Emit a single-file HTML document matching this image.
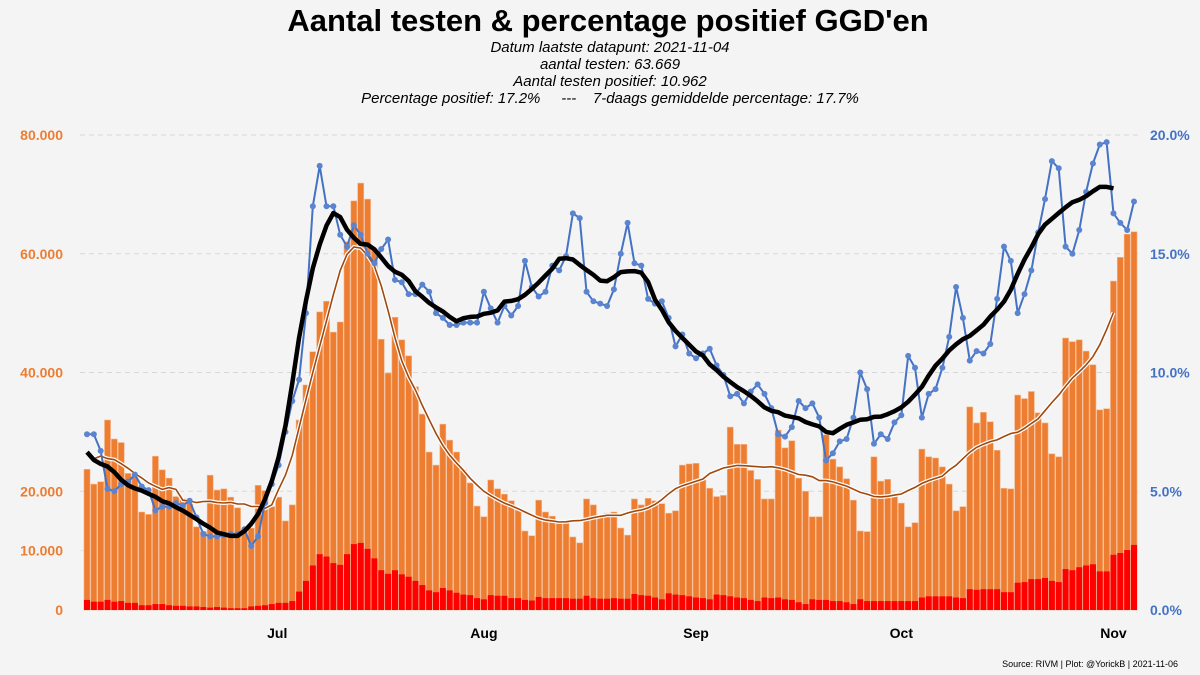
<!DOCTYPE html>
<html><head><meta charset="utf-8"><style>
html,body{margin:0;padding:0;background:#f4f4f4;}
svg{display:block;font-family:"Liberation Sans",sans-serif;}
</style></head><body>
<svg id="chart" width="1200" height="675" viewBox="0 0 1200 675">
<rect width="1200" height="675" fill="#f4f4f4"/>
<text x="608" y="31" text-anchor="middle" font-size="31" font-weight="bold" fill="#000">Aantal testen &amp; percentage positief GGD'en</text>
<g font-size="15" font-style="italic" text-anchor="middle" fill="#000">
<text x="610" y="52">Datum laatste datapunt: 2021-11-04</text>
<text x="610" y="69">aantal testen: 63.669</text>
<text x="610" y="86">Aantal testen positief: 10.962</text>
<text x="610" y="103" style="white-space:pre">Percentage positief: 17.2%     ---    7-daags gemiddelde percentage: 17.7%</text>
</g>
<g id="grid"></g>
<g id="bars"></g>
<g id="lines"></g>
<g id="axes"></g>
<text x="1178" y="667" text-anchor="end" font-size="9" fill="#000">Source: RIVM | Plot: @YorickB |  2021-11-06</text>
</svg>
<script>
const tests = [23.7,21.2,21.6,32.0,28.8,28.2,23.0,22.4,16.5,16.1,25.9,23.6,22.2,19.1,18.8,18.6,14.0,13.2,22.7,20.2,20.4,19.0,17.2,13.5,13.8,21.0,20.1,17.4,19.0,15.0,17.7,32.0,37.9,43.5,50.2,52.0,46.8,48.5,62.0,68.9,71.9,
69.2,60.6,45.6,39.9,49.3,45.5,42.8,37.6,33.0,26.6,24.4,31.3,28.6,26.6,23.6,21.4,17.5,15.7,21.9,20.4,19.5,18.4,16.8,13.3,12.5,18.5,16.5,15.8,14.8,14.6,12.3,11.3,18.7,17.7,16.0,16.3,16.5,13.8,12.6,18.7,17.7,
18.8,18.4,17.9,16.3,16.7,24.4,24.6,24.7,21.9,20.5,19.1,19.3,30.8,27.9,27.9,23.5,22.0,18.7,18.7,30.3,27.3,28.5,22.2,20.0,15.7,15.7,29.5,25.4,24.1,22.1,18.5,13.3,13.2,25.8,21.7,22.0,19.3,
18.0,14.0,14.7,27.1,25.8,25.6,24.1,21.2,16.7,17.4,34.2,31.5,33.3,31.7,26.9,20.5,20.4,36.2,35.6,36.8,33.2,31.5,26.3,25.8,45.8,45.2,45.5,43.6,41.3,33.7,33.9,55.4,59.4,63.3,63.7];
const positives = [1.7,1.4,1.4,1.7,1.4,1.5,1.2,1.2,0.8,0.8,1.0,1.0,0.8,0.7,0.7,0.6,0.6,0.5,0.4,0.5,0.4,0.3,0.3,0.3,0.6,0.7,0.8,1.0,1.2,1.2,1.5,3.1,4.9,7.5,9.4,9.0,7.9,7.6,9.4,11.1,11.3,
10.3,8.7,6.7,6.1,6.7,6.0,5.6,4.9,4.2,3.3,3.0,3.7,3.3,2.9,2.6,2.5,2.0,1.8,2.5,2.4,2.4,2.0,2.0,1.7,1.6,2.2,2.0,2.0,2.0,2.0,1.9,1.9,2.4,2.0,1.9,1.9,2.0,1.9,1.9,2.7,2.5,
2.4,2.1,1.8,2.8,2.6,2.5,2.3,2.1,2.0,1.8,2.6,2.5,2.3,2.1,2.0,1.7,1.5,2.1,2.0,2.1,1.8,1.7,1.3,1.0,1.8,1.7,1.7,1.5,1.5,1.3,1.0,1.8,1.5,1.5,1.5,1.5,1.5,
1.5,1.5,1.5,2.1,2.3,2.3,2.3,2.3,2.1,2.0,3.5,3.4,3.5,3.5,3.5,3.0,3.0,4.6,4.7,5.2,5.2,5.4,4.9,4.7,6.9,6.7,7.2,7.5,7.7,6.5,6.5,9.3,9.6,10.1,10.96];
const pct = [7.4,7.4,6.7,5.1,5.0,5.3,5.4,5.7,5.2,5.05,4.2,4.35,4.35,4.5,4.4,4.6,3.9,3.2,3.1,3.1,3.15,3.2,3.2,3.4,2.7,3.1,4.5,5.3,6.1,7.5,8.8,9.7,12.5,17.0,18.7,17.0,17.0,15.8,15.3,16.2,15.8,
15.0,14.6,15.2,15.6,13.9,13.8,13.3,13.3,13.7,13.4,12.5,12.3,12.0,12.0,12.1,12.1,12.1,13.4,12.7,12.1,12.8,12.4,12.8,14.7,13.6,13.2,13.4,14.5,14.3,14.9,16.7,16.5,13.4,13.0,12.9,12.8,13.5,15.0,16.3,14.6,14.5,
13.1,12.9,13.0,12.3,11.1,11.6,10.8,10.6,10.8,11.0,10.3,9.9,9.0,9.1,8.7,9.2,9.5,9.1,8.5,7.4,7.3,7.7,8.8,8.5,8.7,8.1,6.3,6.6,7.1,7.2,8.1,10.0,9.3,7.0,7.4,7.2,7.9,
8.2,10.7,10.2,8.1,9.1,9.3,10.2,11.5,13.6,12.3,10.5,10.9,10.8,11.2,13.1,15.3,14.7,12.5,13.3,14.3,15.9,17.3,18.9,18.6,15.3,15.0,16.0,17.6,18.8,19.6,19.7,16.7,16.3,16.0,17.2];
const monthLabels = ["Jul","Aug","Sep","Oct","Nov"];
const monthIndex = [27.8,58,89,119,150];
const leftTicks = [0,10,20,40,60,80];
const leftTickLabels = ["0","10.000","20.000","40.000","60.000","80.000"];
const rightTicks = [0,5,10,15,20];
const rightTickLabels = ["0.0%","5.0%","10.0%","15.0%","20.0%"];

const NS="http://www.w3.org/2000/svg";
const n = tests.length;
const X0=87, X1=1134, Y0=610, YT=135;
const pitch=(X1-X0)/(n-1);
function xs(i){return X0+i*pitch;}
function yl(v){return Y0-(v/80)*(Y0-YT);}
function yr(p){return Y0-(p/20)*(Y0-YT);}
function mk(tag,attrs,parent){const e=document.createElementNS(NS,tag);for(const k in attrs)e.setAttribute(k,attrs[k]);parent.appendChild(e);return e;}
const grid=document.getElementById('grid'),bars=document.getElementById('bars'),lines=document.getElementById('lines'),axes=document.getElementById('axes');

leftTicks.forEach((t,k)=>{
  if(t>0){const g=mk('line',{x1:80,x2:1140,y1:yl(t),y2:yl(t),stroke:t===10?'#e6e6e6':'#d8d8d8','stroke-width':1,'stroke-dasharray':'5,4'},grid);
  
  }
  const tx=mk('text',{x:63,y:yl(t)+5,'text-anchor':'end','font-size':14,'font-weight':'bold',fill:'#ed7d31'},axes);
  tx.textContent=leftTickLabels[k];
  
  
});
rightTicks.forEach((t,k)=>{
  const tx=mk('text',{x:1150,y:yr(t)+5,'font-size':14,'font-weight':'bold',fill:'#4472c4'},axes);
  tx.textContent=rightTickLabels[k];
  
  
});
monthLabels.forEach((m,k)=>{
  const tx=mk('text',{x:xs(monthIndex[k]),y:638,'text-anchor':'middle','font-size':14,'font-weight':'bold',fill:'#000'},axes);
  tx.textContent=m;
  
  
});

const bw=pitch-0.8;
for(let i=0;i<n;i++){
  const b=mk('rect',{x:xs(i)-bw/2,y:yl(tests[i]),width:bw,height:Y0-yl(tests[i]),fill:'#ed7d31',stroke:'#f6b68a','stroke-width':0.6},bars);
  
  
  const r=mk('rect',{x:xs(i)-bw/2,y:yl(positives[i]),width:bw,height:Y0-yl(positives[i]),fill:'#ff0000'},bars);
  
  
}
function roll(a,i){let s=0,c=0;for(let j=Math.max(0,i-3);j<=Math.min(a.length-1,i+3);j++){s+=a[j];c++;}return s/c;}
let brown=[],black=[],blue=[];
for(let i=1;i<=n-4;i++) brown.push(xs(i).toFixed(1)+','+yl(roll(tests,i)).toFixed(1));
for(let i=0;i<=n-4;i++) black.push(xs(i).toFixed(1)+','+yr(roll(pct,i)).toFixed(1));
for(let i=0;i<n;i++) blue.push(xs(i).toFixed(1)+','+yr(pct[i]).toFixed(1));
const bw1=mk('polyline',{points:brown.join(' '),fill:'none',stroke:'#ffffff','stroke-width':4},lines);


const bw2=mk('polyline',{points:brown.join(' '),fill:'none',stroke:'#a0490f','stroke-width':1.6},lines);


const bl=mk('polyline',{points:blue.join(' '),fill:'none',stroke:'#4472c4','stroke-width':2},lines);


for(let i=0;i<n;i++){
  const c=mk('circle',{cx:xs(i),cy:yr(pct[i]),r:3,fill:'#5b84d0'},lines);
  
  
}
const bk=mk('polyline',{points:black.join(' '),fill:'none',stroke:'#000','stroke-width':4.5,'stroke-linejoin':'round'},lines);


</script>
</body></html>
